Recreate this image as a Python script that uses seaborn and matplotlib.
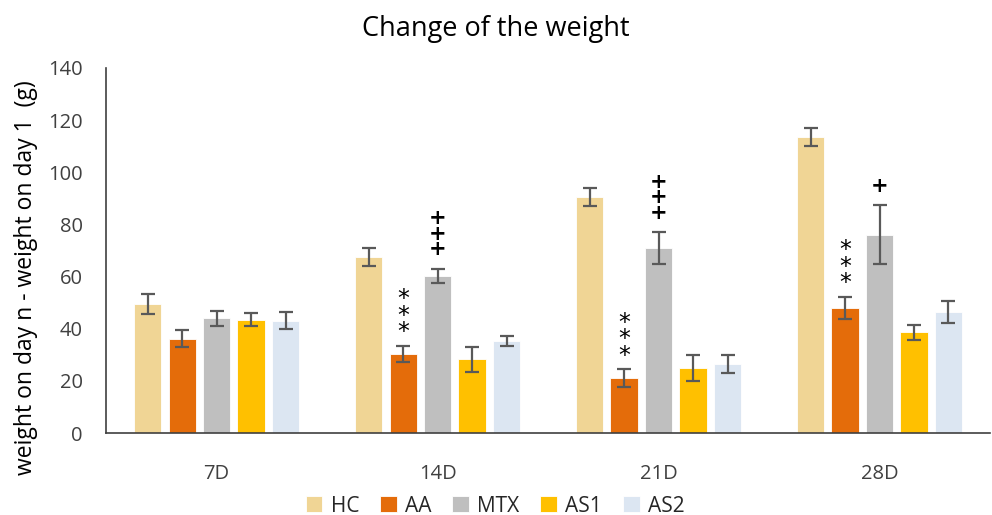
import numpy as np
import pandas as pd
import matplotlib
matplotlib.use("Agg")
import matplotlib.pyplot as plt
import seaborn as sns

# Data
days = ["7D", "14D", "21D", "28D"]
groups = ["HC", "AA", "MTX", "AS1", "AS2"]
hc = [49.5, 67.5, 90.5, 113.5]
aa = [36.2, 30.3, 21.0, 48.1]
mtx = [44.0, 60.3, 71.1, 76.1]
as1 = [43.5, 28.3, 24.8, 38.6]
as2 = [43.1, 35.3, 26.4, 46.5]
hc_err = [4.0, 3.6, 3.6, 3.6]
aa_err = [3.2, 3.2, 3.4, 4.2]
mtx_err = [2.9, 2.8, 6.1, 11.4]
as1_err = [2.4, 4.9, 5.0, 2.9]
as2_err = [3.2, 2.0, 3.5, 4.2]
# significance marks: (day, group, text)
marks = [("14D", "AA", "*\n*\n*"), ("21D", "AA", "*\n*\n*"), ("28D", "AA", "*\n*\n*"),
         ("14D", "MTX", "+\n+\n+"), ("21D", "MTX", "+\n+\n+"), ("28D", "MTX", "+")]

colors = ["#F0D595", "#E46C0A", "#BFBFBF", "#FFC000", "#DCE6F2"]

values = {"HC": hc, "AA": aa, "MTX": mtx, "AS1": as1, "AS2": as2}
errors = {"HC": hc_err, "AA": aa_err, "MTX": mtx_err, "AS1": as1_err, "AS2": as2_err}
rows = []
for g in groups:
    for i, d in enumerate(days):
        rows.append({"day": d, "group": g, "value": values[g][i], "err": errors[g][i]})
df = pd.DataFrame(rows)

sns.set_theme(style="white")
plt.rcParams["font.family"] = ["Open Sans", "DejaVu Sans"]

fig = plt.figure(figsize=(9.92, 5.15), dpi=100)
ax = fig.add_axes([0.107, 0.159, 0.891, 0.709])

sns.barplot(data=df, x="day", y="value", hue="group", order=days, hue_order=groups,
            palette=colors, width=0.78, gap=0.21, errorbar=None, ax=ax,
            edgecolor="white", linewidth=0.6, saturation=1)

# error bars and marks positioned on each bar
for gi, g in enumerate(groups):
    container = ax.containers[gi]
    for di, bar in enumerate(container):
        cx = bar.get_x() + bar.get_width() / 2
        v = values[g][di]
        e = errors[g][di]
        ax.errorbar(cx, v, yerr=e, fmt="none", ecolor="#595959", elinewidth=1.6,
                    capsize=5, capthick=1.6, zorder=5)
        for d, mg, txt in marks:
            if d == days[di] and mg == g:
                is_plus = "+" in txt
                ax.text(cx, v + e + (3.5 if is_plus else 0.5), txt, ha="center", va="bottom",
                        fontsize=15 if is_plus else 17, color="black",
                        linespacing=0.72 if is_plus else 0.62,
                        family="DejaVu Sans", fontweight="bold" if is_plus else "normal")

ax.set_ylim(0, 140)
ax.set_yticks(np.arange(0, 141, 20))
ax.set_xlim(-0.5, 3.5)
ax.tick_params(axis="both", length=0, labelsize=14.5, colors="#404040")
ax.tick_params(axis="y", pad=17)
ax.tick_params(axis="x", pad=22)
ax.set_xlabel("")
ax.set_ylabel("weight on day n - weight on day 1  (g)", fontsize=16.5, color="black")
ax.yaxis.set_label_coords(-0.077, 0.425)
for s in ["top", "right"]:
    ax.spines[s].set_visible(False)
for s in ["left", "bottom"]:
    ax.spines[s].set_color("#404040")
    ax.spines[s].set_linewidth(1.2)

fig.suptitle("Change of the weight", fontsize=19.5, y=0.97, color="black")

handles, labels = ax.get_legend_handles_labels()
ax.legend(handles, labels, loc="center", bbox_to_anchor=(0.44, -0.2), ncol=5,
          frameon=False, fontsize=15, handlelength=0.8, handleheight=0.8,
          handletextpad=0.4, columnspacing=1.0)

fig.savefig("out.png", dpi=100)
